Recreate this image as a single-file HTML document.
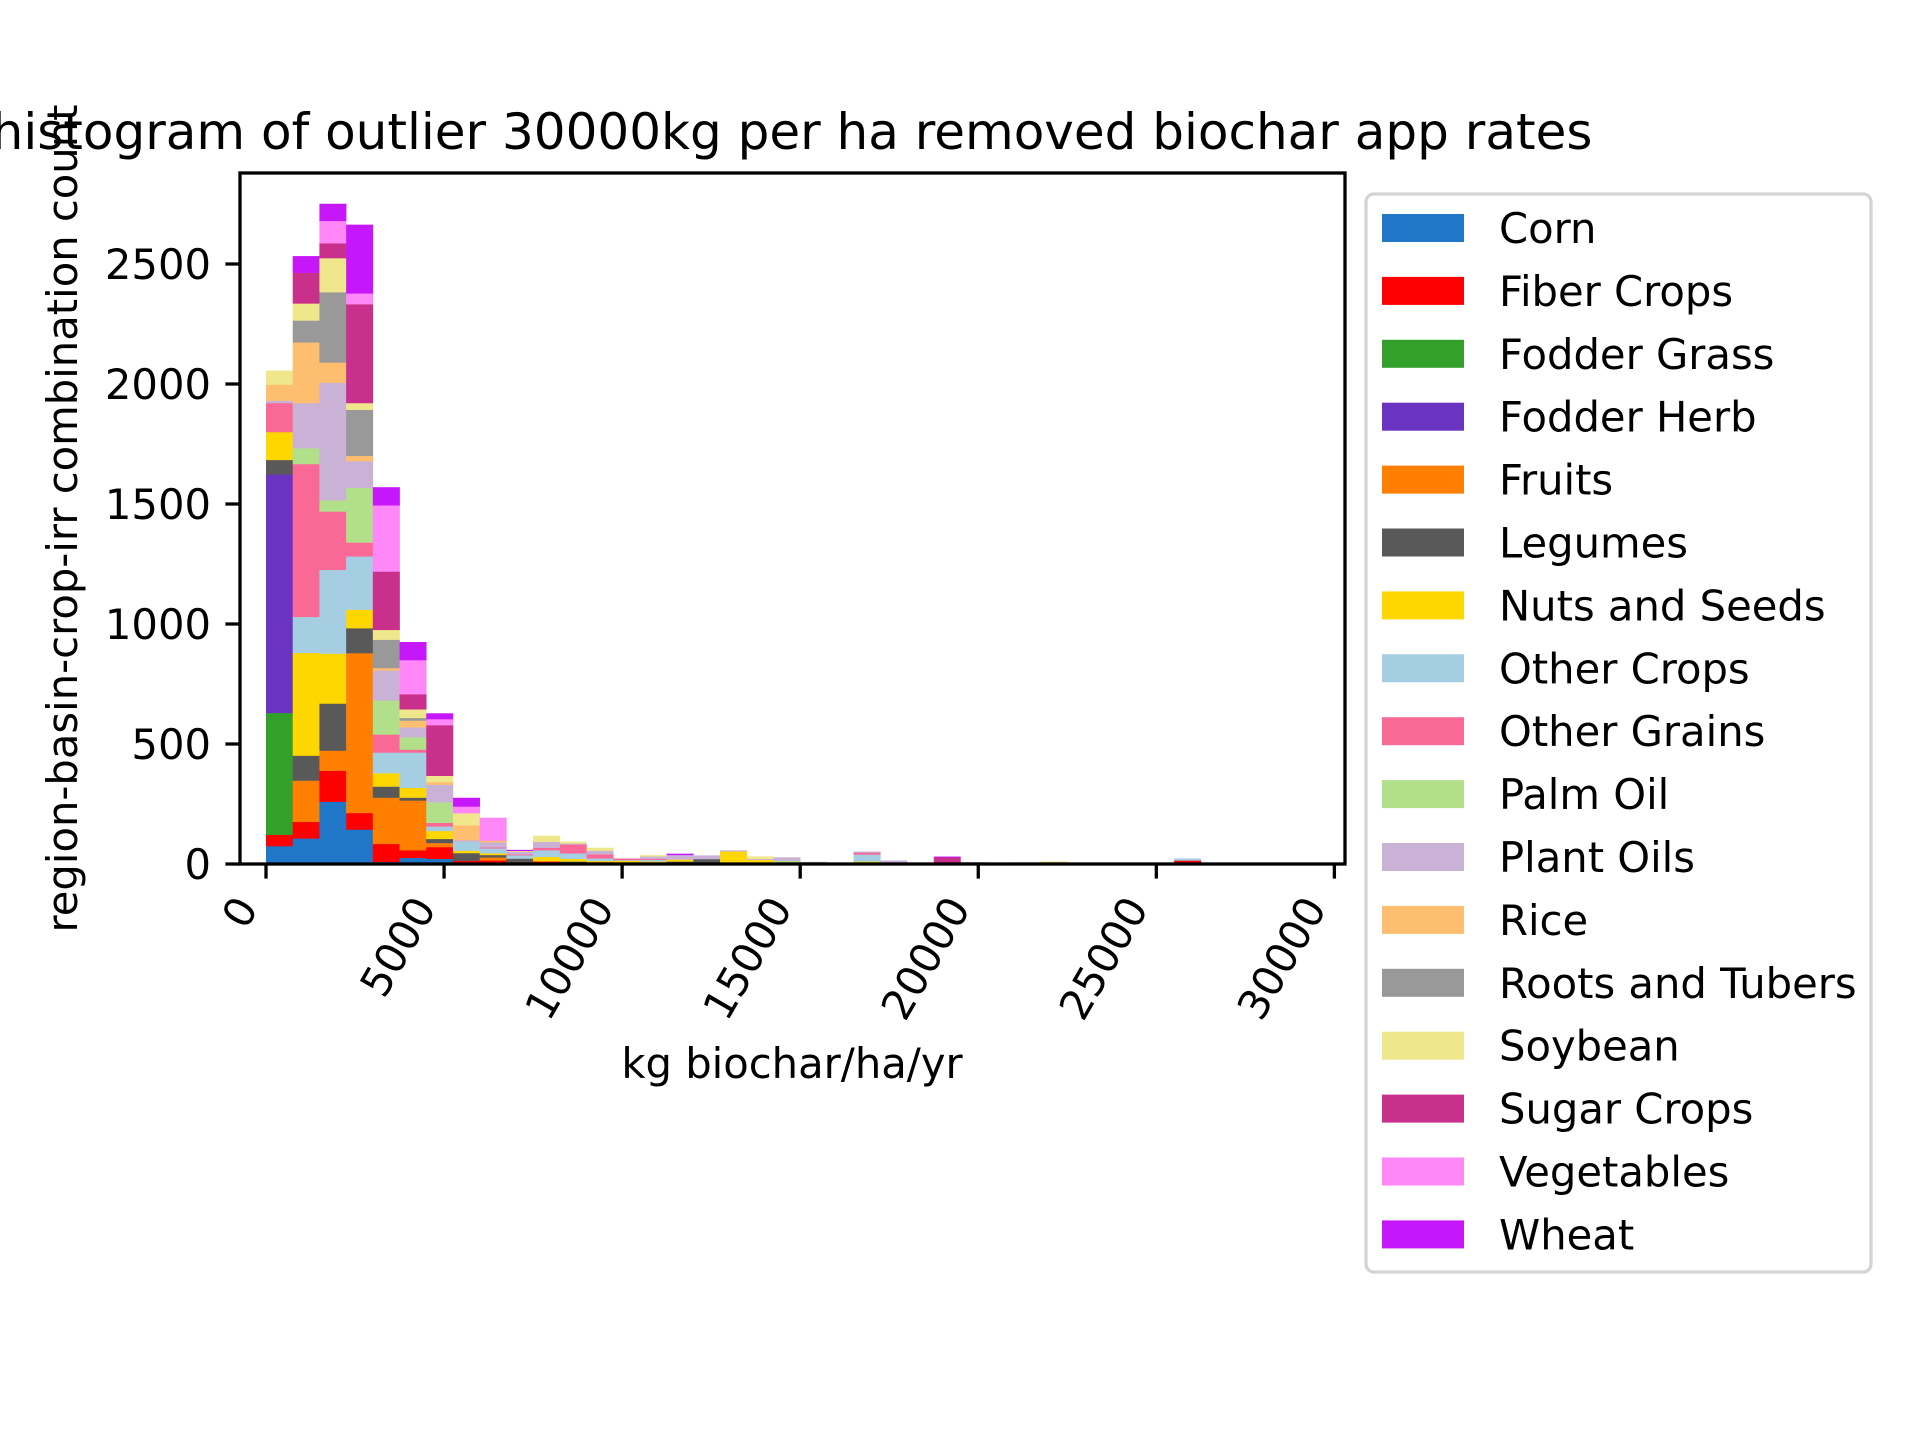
<!DOCTYPE html>
<html><head><meta charset="utf-8"><style>
html,body{margin:0;padding:0;background:#fff;}
svg{display:block;font-family:"DejaVu Sans","Liberation Sans",sans-serif;}
</style></head><body>
<svg id="chart" width="1920" height="1440" viewBox="0 0 1920 1440" xmlns="http://www.w3.org/2000/svg">
<rect x="0" y="0" width="1920" height="1440" fill="#fff"/>
<g id="bars"></g>
<g id="axes"></g>
<text x="792" y="149" font-size="50" text-anchor="middle">histogram of outlier 30000kg per ha removed biochar app rates</text>
<text x="792" y="1078" font-size="41.7" text-anchor="middle">kg biochar/ha/yr</text>
<text transform="translate(77,518.5) rotate(-90)" font-size="41.7" text-anchor="middle">region-basin-crop-irr combination count</text>
<g id="legend"></g>
</svg>
<script>
const binWidth = 750;
const categories = ["Corn","Fiber Crops","Fodder Grass","Fodder Herb","Fruits","Legumes","Nuts and Seeds","Other Crops","Other Grains","Palm Oil","Plant Oils","Rice","Roots and Tubers","Soybean","Sugar Crops","Vegetables","Wheat"];
const colors = ["#2077c7","#ff0000","#33a02c","#6b33c2","#ff7f00","#595959","#ffd700","#a6cee3","#fa6996","#b2df8a","#cab2d6","#fdbf6f","#999999","#f0e68c","#c9308b","#ff87f7","#c617fb"];
const corn =        [75,107,260,144,9,26,22,3,0,5, 0,0,0,0,0,0,0,0,0,0, 0,0,0,0,0,0,0,0,0,0, 0,0,0,0,0,0,0,0,0,0];
const fiberCrops =  [47,69,129,69,75,32,49,11,16,3, 10,0,8,0,0,0,0,0,0,0, 0,0,0,0,0,0,0,0,0,0, 0,0,0,0,15,0,0,0,0,0];
const fodderGrass = [508,0,0,0,0,0,0,0,0,0, 0,0,0,0,0,0,0,0,0,0, 0,0,0,0,0,0,0,0,0,0, 0,0,0,0,0,0,0,0,0,0];
const fodderHerb =  [994,0,0,0,0,0,0,0,0,0, 0,0,0,0,0,0,0,0,0,0, 0,0,0,0,0,0,0,0,0,0, 0,0,0,0,0,0,0,0,0,0];
const fruits =      [0,172,84,666,193,207,17,0,12,0, 4,3,0,0,0,0,0,0,0,0, 0,0,0,0,0,0,0,0,0,0, 0,0,0,0,0,0,0,0,0,0];
const legumes =     [60,104,196,104,46,12,17,32,10,15, 0,8,0,0,0,11,21,3,0,0, 0,0,7,0,0,0,0,0,0,0, 0,0,0,0,0,0,0,0,0,0];
const nutsSeeds =   [116,428,208,77,56,41,33,10,7,0, 16,11,5,14,11,8,0,50,18,4, 0,0,4,0,3,0,4,0,0,4, 0,0,0,0,0,0,0,0,3,0];
const otherCrops =  [0,150,349,222,86,147,19,37,21,14, 28,23,11,3,7,0,0,0,0,0, 0,0,29,7,0,7,0,0,0,0, 0,0,0,3,8,0,0,0,0,3];
const otherGrains = [121,637,243,58,75,12,15,0,4,4, 10,37,17,6,4,0,0,0,0,0, 7,0,8,0,0,0,0,0,0,0, 0,0,0,0,0,0,0,0,0,0];
const palmOil =     [0,66,47,228,142,52,86,0,0,0, 0,0,0,0,0,0,0,0,0,10, 0,0,0,0,0,0,0,0,0,0, 0,0,0,0,0,0,0,0,0,0];
const plantOils =   [10,188,490,111,125,41,73,7,21,10, 25,4,15,0,10,19,15,4,4,14, 2,2,4,8,0,0,4,0,7,0, 0,0,0,0,0,0,0,0,0,0];
const rice =        [67,253,84,22,10,28,11,62,7,0, 0,0,0,0,0,0,0,0,0,0, 0,0,0,0,0,0,0,0,0,0, 0,0,0,0,0,0,0,0,0,0];
const rootsTubers = [0,91,293,192,118,11,0,0,0,0, 0,0,0,0,0,0,0,0,0,0, 0,0,0,0,0,0,0,0,0,0, 0,0,0,0,0,0,0,0,0,0];
const soybean =     [58,71,142,28,41,36,26,50,0,4, 25,7,12,0,5,0,0,0,10,0, 0,0,0,0,0,0,0,0,0,7, 0,0,0,0,0,0,0,0,0,0];
const sugarCrops =  [0,128,62,412,243,63,211,0,0,0, 0,0,0,0,0,0,0,0,0,0, 0,0,0,0,0,21,0,0,0,0, 0,3,0,0,0,0,0,0,0,0];
const vegetables =  [0,0,93,45,276,142,25,28,95,0, 0,0,0,0,0,0,0,0,0,0, 0,0,0,0,0,0,0,0,0,0, 0,0,0,0,0,0,0,0,0,0];
const wheat =       [0,69,71,286,75,75,24,36,0,4, 0,0,0,0,0,5,0,0,0,0, 0,0,0,0,0,3,0,0,0,0, 0,3,0,0,0,0,0,0,0,0];
const xTicks = [0,5000,10000,15000,20000,25000,30000];
const yTicks = [0,500,1000,1500,2000,2500];

const series = [corn,fiberCrops,fodderGrass,fodderHerb,fruits,legumes,nutsSeeds,otherCrops,otherGrains,palmOil,plantOils,rice,rootsTubers,soybean,sugarCrops,vegetables,wheat];
const NS = "http://www.w3.org/2000/svg";
const AX = {l:240, r:1345, t:173, b:864};
function xs(v){ return 266 + v*0.035613; }
function ys(v){ return 864 - v*0.24; }
function mk(tag, attrs, parent){ const e=document.createElementNS(NS,tag); for(const k in attrs) e.setAttribute(k,attrs[k]); parent.appendChild(e); return e; }

const barsG = document.getElementById('bars');
const nb = corn.length;
for(let i=0;i<nb;i++){
  let cum=0;
  for(let s=0;s<series.length;s++){
    const v=series[s][i];
    if(!v) continue;
    const x0=xs(i*binWidth), x1=xs((i+1)*binWidth);
    const r=mk('rect',{x:x0,y:ys(cum+v),width:x1-x0+0.3,height:ys(cum)-ys(cum+v)+0.3,fill:colors[s]},barsG);
    
    
    cum+=v;
  }
}

const axG = document.getElementById('axes');
const frame=mk('rect',{x:AX.l,y:AX.t,width:AX.r-AX.l,height:AX.b-AX.t,fill:'none',stroke:'#000','stroke-width':3.3},axG);


xTicks.forEach(t=>{
  const x=xs(t);
  const tk=mk('line',{x1:x,y1:AX.b,x2:x,y2:AX.b+14.6,stroke:'#000','stroke-width':3.3},axG);
  
  
  const lb=mk('text',{transform:`translate(${x-7},${908}) rotate(-60)`,'font-size':41.7,'text-anchor':'end'},axG);
  lb.textContent=String(t);
  
  
});
yTicks.forEach(t=>{
  const y=ys(t);
  const tk=mk('line',{x1:AX.l-14.6,y1:y,x2:AX.l,y2:y,stroke:'#000','stroke-width':3.3},axG);
  
  
  const lb=mk('text',{x:AX.l-29,y:y+15,'font-size':41.7,'text-anchor':'end'},axG);
  lb.textContent=String(t);
  
  
});

const lg=document.getElementById('legend');
const box=mk('rect',{x:1366,y:194,width:505,height:1078,rx:8,fill:'#fff',stroke:'#d4d4d4','stroke-width':3.3},lg);


categories.forEach((c,i)=>{
  const y=214+i*62.9;
  const p=mk('rect',{x:1382,y:y,width:82,height:28,fill:colors[i]},lg);
  
  
  const t=mk('text',{x:1499,y:y+29,'font-size':41.7},lg);
  t.textContent=c;
  
  
});
</script>
</body></html>
